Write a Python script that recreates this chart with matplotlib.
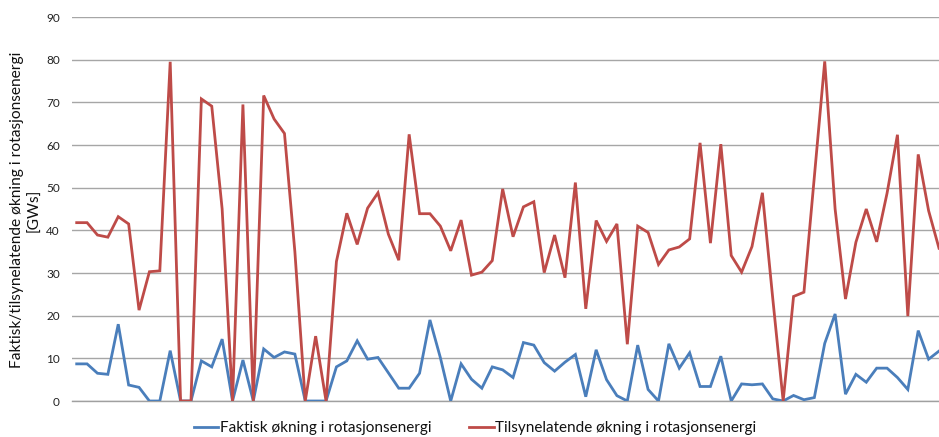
import matplotlib
matplotlib.use("Agg")
import matplotlib.pyplot as plt
import numpy as np

# Measured increase in rotational energy [GWs] per event
faktisk = [
    8.7, 8.7, 6.5, 6.25, 18.0, 3.75, 3.2, 0, 0, 11.8,
    0, 0, 9.4, 8.0, 14.5, 0, 9.6, 0, 12.2, 10.2,
    11.5, 11.0, 0, 0, 0, 8.0, 9.4, 14.1, 9.8, 10.2,
    6.6, 3.0, 3.0, 6.5, 19.0, 10.2, 0, 8.7, 5.1, 3.0,
    8.0, 7.3, 5.5, 13.7, 13.1, 9.0, 7.0, 9.1, 10.9, 1.0,
    12.0, 5.0, 1.25, 0, 13.1, 2.7, 0, 13.4, 7.7, 11.3,
    3.4, 3.4, 10.5, 0, 4.0, 3.8, 4.0, 0.5, 0, 1.3,
    0.3, 0.8, 13.5, 20.4, 1.6, 6.25, 4.4, 7.7, 7.7, 5.5,
    2.7, 16.5, 9.8, 11.7,
]

# Apparent increase in rotational energy [GWs] per event
tilsynelatende = [
    41.8, 41.8, 38.9, 38.4, 43.2, 41.5, 21.3, 30.3, 30.5, 79.5,
    0, 0, 70.8, 69.1, 45.0, 0, 69.5, 0, 71.6, 66.1,
    62.7, 35.0, 0, 15.2, 0, 32.7, 44.0, 36.7, 45.2, 48.8,
    39.1, 33.0, 62.5, 43.9, 43.9, 41.0, 35.2, 42.4, 29.5, 30.2,
    32.9, 49.7, 38.5, 45.5, 46.7, 30.1, 38.9, 28.9, 51.2, 21.6,
    42.3, 37.4, 41.5, 13.3, 41.0, 39.5, 32.0, 35.4, 36.1, 38.0,
    60.5, 37.0, 60.2, 34.1, 30.2, 36.2, 48.8, 24.0, 0, 24.5,
    25.5, 52.5, 79.6, 45.0, 23.9, 37.2, 45.0, 37.3, 48.7, 62.4,
    19.9, 57.8, 44.6, 35.8,
]

navn_faktisk = "Faktisk økning i rotasjonsenergi"
navn_tilsyn = "Tilsynelatende økning i rotasjonsenergi"
y_tikker = [0, 10, 20, 30, 40, 50, 60, 70, 80, 90]
y_tittel = "Faktisk/tilsynelatende økning i rotasjonsenergi\n[GWs]"

plt.rcParams["font.family"] = ["Lato", "DejaVu Sans"]

W, H = 939, 437
fig = plt.figure(figsize=(W / 100, H / 100), dpi=100)
left, right, top, bottom = 71.5, 939.0, 17.0, 401.0
ax = fig.add_axes([left / W, 1 - bottom / H, (right - left) / W, (bottom - top) / H])

x = np.arange(len(faktisk))
blue = "#4A7EBB"
red = "#BE4B48"
ax.plot(x, faktisk, color=blue, lw=2.0, label=navn_faktisk, zorder=3,
        solid_joinstyle="miter")
ax.plot(x, tilsynelatende, color=red, lw=2.0, label=navn_tilsyn, zorder=3,
        solid_joinstyle="miter")

ax.set_xlim(-0.5, len(faktisk) - 1.0)
ax.set_ylim(0, 90)
ax.set_yticks(y_tikker)
ax.set_yticklabels([str(v) for v in y_tikker], fontsize=8.5, color="#222222")
ax.set_xticks([])
ax.yaxis.grid(True, color="#A6A6A6", lw=1.0)
ax.set_axisbelow(True)
for s in ["top", "right", "left"]:
    ax.spines[s].set_visible(False)
ax.spines["bottom"].set_color("#A0A0A0")
ax.spines["bottom"].set_linewidth(1.0)
ax.tick_params(axis="y", length=0, pad=8.3)

fig.text(26 / W, 1 - 210 / H, y_tittel, rotation=90, ha="center", va="center",
         fontsize=11.2, linespacing=1.3, color="#111111")

leg = fig.legend(loc="center", bbox_to_anchor=(475 / W, 1 - 428 / H), ncol=2,
                 frameon=False, fontsize=11, handlelength=1.63,
                 handletextpad=0.1, columnspacing=2.45)
for t in leg.get_texts():
    t.set_color("#111111")

fig.savefig("out.png", dpi=100)
